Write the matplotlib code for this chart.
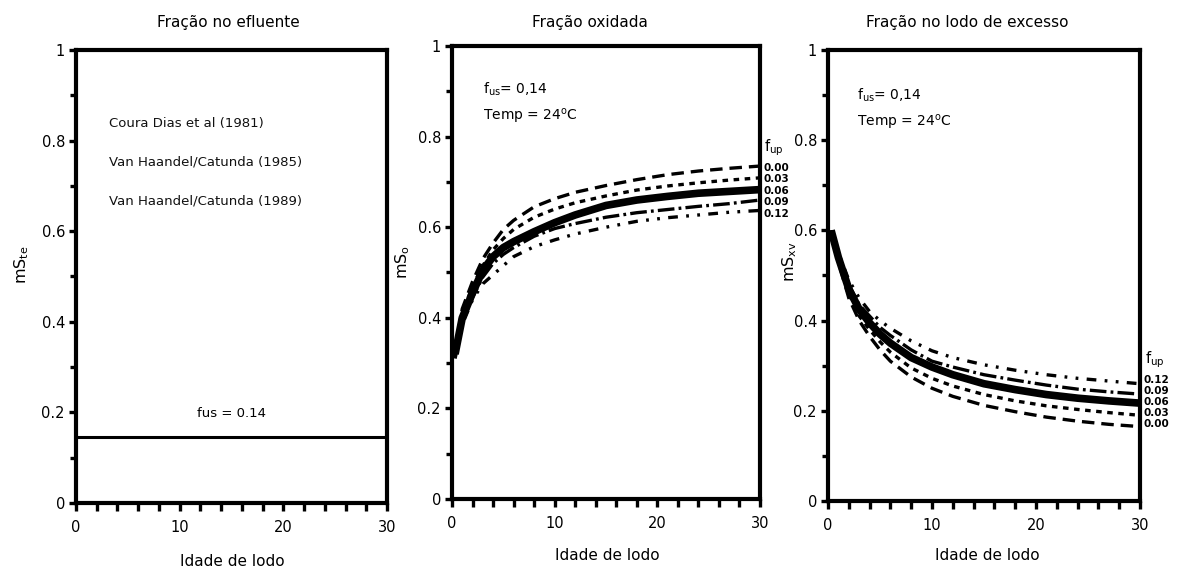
import numpy as np
import matplotlib
matplotlib.use('Agg')
import matplotlib.pyplot as plt

plt.rcParams['font.family'] = ['DejaVu Sans']
plt.rcParams['mathtext.default'] = 'regular'
plt.rcParams['lines.scale_dashes'] = False

# idade de lodo (dias)
idade = [0.3, 1, 2, 3, 4, 5, 6, 8, 10, 12, 15, 18, 21, 24, 27, 30]
fup_labels = ['0.00', '0.03', '0.06', '0.09', '0.12']

# fração no efluente
fus = 0.145

# fração oxidada (mSo) por fup
mso = {
    '0.00': [0.33, 0.42, 0.48, 0.53, 0.565, 0.595, 0.615, 0.645, 0.663, 0.677, 0.692, 0.705, 0.716, 0.724, 0.730, 0.735],
    '0.03': [0.325, 0.41, 0.47, 0.515, 0.55, 0.575, 0.595, 0.622, 0.640, 0.654, 0.669, 0.682, 0.691, 0.698, 0.704, 0.709],
    '0.06': [0.32, 0.40, 0.455, 0.505, 0.535, 0.555, 0.568, 0.590, 0.610, 0.627, 0.648, 0.660, 0.668, 0.675, 0.679, 0.683],
    '0.09': [0.315, 0.39, 0.445, 0.49, 0.52, 0.54, 0.555, 0.580, 0.597, 0.608, 0.622, 0.632, 0.639, 0.646, 0.652, 0.660],
    '0.12': [0.31, 0.385, 0.44, 0.475, 0.495, 0.515, 0.535, 0.557, 0.572, 0.585, 0.600, 0.613, 0.621, 0.627, 0.633, 0.637],
}

# fração no lodo de excesso (mSxv) por fup
msxv = {
    '0.00': [0.60, 0.53, 0.45, 0.40, 0.365, 0.335, 0.31, 0.275, 0.25, 0.232, 0.212, 0.198, 0.186, 0.177, 0.170, 0.165],
    '0.03': [0.60, 0.535, 0.46, 0.41, 0.38, 0.353, 0.33, 0.295, 0.272, 0.255, 0.236, 0.222, 0.211, 0.203, 0.196, 0.190],
    '0.06': [0.60, 0.54, 0.47, 0.425, 0.395, 0.37, 0.35, 0.318, 0.297, 0.28, 0.26, 0.247, 0.236, 0.228, 0.222, 0.217],
    '0.09': [0.60, 0.545, 0.48, 0.435, 0.41, 0.385, 0.367, 0.335, 0.31, 0.297, 0.28, 0.268, 0.257, 0.248, 0.242, 0.237],
    '0.12': [0.60, 0.55, 0.49, 0.45, 0.42, 0.40, 0.383, 0.355, 0.333, 0.318, 0.302, 0.29, 0.28, 0.272, 0.266, 0.260],
}

refs = ['Coura Dias et al (1981)', 'Van Haandel/Catunda (1985)', 'Van Haandel/Catunda (1989)']

xticks = [0, 10, 20, 30]
yticks = [0, 0.2, 0.4, 0.6, 0.8, 1.0]
ylab = ['0', '0.2', '0.4', '0.6', '0.8', '1']

estilos = {
    '0.00': dict(lw=2.4, dashes=(9, 5)),
    '0.03': dict(lw=2.4, dashes=(4, 4)),
    '0.06': dict(lw=5.5, linestyle='-'),
    '0.09': dict(lw=2.4, dashes=(12, 3, 2, 3)),
    '0.12': dict(lw=2.4, dashes=(7, 6, 2, 6, 2, 6)),
}

W, H = 1177, 572
fig = plt.figure(figsize=(W / 100, H / 100), dpi=100, facecolor='white')


def px_axes(x0, x1, ytop, ybot):
    return fig.add_axes([x0 / W, 1 - ybot / H, (x1 - x0) / W, (ybot - ytop) / H])


def estilo_eixo(ax):
    ax.set_xlim(0, 30)
    ax.set_ylim(0, 1)
    ax.set_xticks(xticks, [str(v) for v in xticks])
    ax.set_xticks(np.arange(0, 31, 2), minor=True)
    ax.set_yticks(yticks, ylab)
    ax.set_yticks(np.arange(0.1, 1.0, 0.2), minor=True)
    for s in ax.spines.values():
        s.set_linewidth(3)
    ax.tick_params(which='both', direction='out', length=5, width=2.4, labelsize=10.5, pad=3)
    ax.tick_params(axis='x', which='both', length=6, pad=6)
    ax.tick_params(which='minor', axis='y', length=4)


# painel 1
ax1 = px_axes(76, 387, 50, 503)
estilo_eixo(ax1)
ax1.plot([0, 30], [fus, fus], color='black', lw=2.2)
for i, r in enumerate(refs):
    ax1.text(3.2, 0.83 - i * 0.085, r, fontsize=9.5, color='#111111')
ax1.text(15, 0.19, 'fus = 0.14', fontsize=9.5, ha='center')

# painel 2
ax2 = px_axes(452, 760, 46, 499)
estilo_eixo(ax2)
for k in fup_labels:
    ax2.plot(idade, mso[k], color='black', solid_capstyle='butt', **estilos[k])
ax2.text(3.0, 0.895, r'f$_{us}$= 0,14', fontsize=10)
ax2.text(3.0, 0.835, r'Temp = 24$^{o}$C', fontsize=10)
fig.text(764 / W, 1 - 151 / H, r'f$_{up}$', fontsize=10.5)
for i, k in enumerate(fup_labels):
    fig.text(763 / W, 1 - (168 + i * 11.5) / H, k, fontsize=7.5, fontweight='bold', va='center')

# painel 3
ax3 = px_axes(828, 1140, 50, 501)
estilo_eixo(ax3)
for k in fup_labels:
    ax3.plot(idade, msxv[k], color='black', solid_capstyle='butt', **estilos[k])
ax3.text(2.8, 0.89, r'f$_{us}$= 0,14', fontsize=10)
ax3.text(2.8, 0.83, r'Temp = 24$^{o}$C', fontsize=10)
fig.text(1145 / W, 1 - 363 / H, r'f$_{up}$', fontsize=10.5)
for i, k in enumerate(fup_labels[::-1]):
    fig.text(1143 / W, 1 - (380 + i * 11) / H, k, fontsize=7.5, fontweight='bold', va='center')

# títulos e rótulos
titulos = ['Fração no efluente', 'Fração oxidada', 'Fração no lodo de excesso']
tx = [228, 590, 967]
for t, x in zip(titulos, tx):
    fig.text(x / W, 1 - 22 / H, t, fontsize=11, ha='center', va='center')

xlx = [232, 607, 987]
xly = [562, 556, 555]
for x, y in zip(xlx, xly):
    fig.text(x / W, 1 - y / H, 'Idade de lodo', fontsize=11, ha='center', va='center')

fig.text(22 / W, 1 - 265 / H, r'mS$_{te}$', fontsize=11.5, rotation=90, ha='center', va='center')
fig.text(403 / W, 1 - 262 / H, r'mS$_{o}$', fontsize=11.5, rotation=90, ha='center', va='center')
fig.text(790 / W, 1 - 262 / H, r'mS$_{xv}$', fontsize=11.5, rotation=90, ha='center', va='center')

fig.savefig('out.png', dpi=100, facecolor='white')
